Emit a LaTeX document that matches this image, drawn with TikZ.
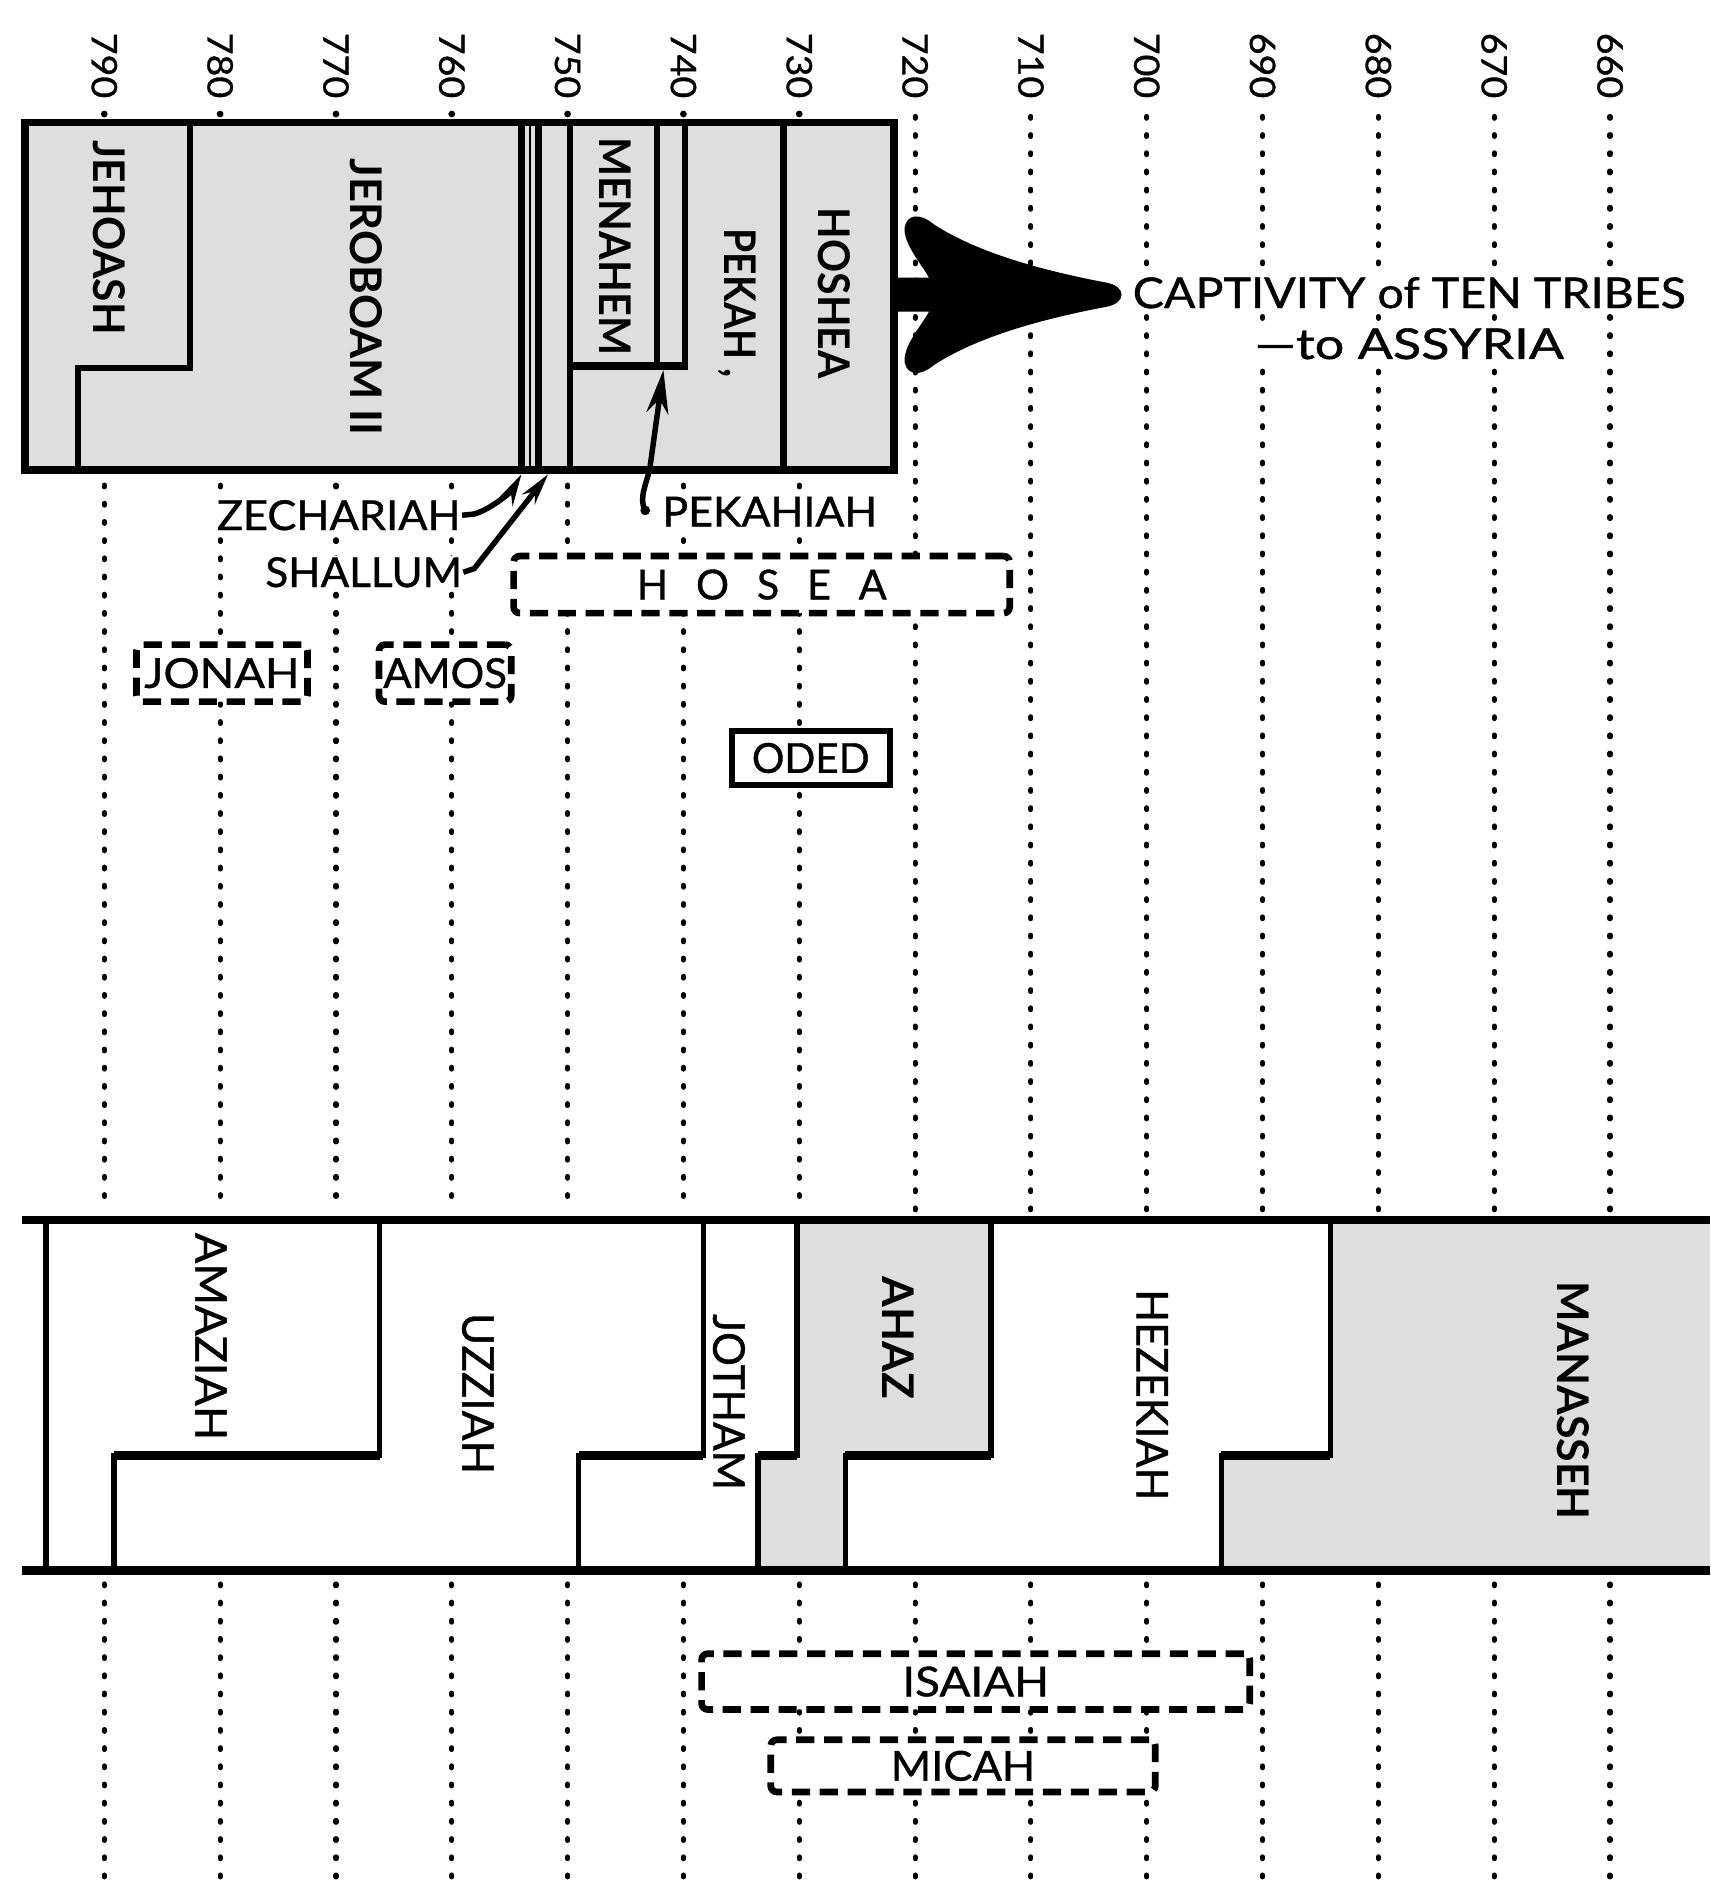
\documentclass[tikz,border=0pt]{standalone}
\usepackage{fontspec}
\setmainfont{Lato}
\newfontfamily\reg[FakeBold=0.9]{Lato}
\usepackage{graphicx}
\usetikzlibrary{arrows.meta}
\newcommand{\fw}[2]{\resizebox{#1pt}{\height}{#2}}
\newcommand{\fsz}[1]{\fontsize{#1}{#1}\selectfont}
\begin{document}
\begin{tikzpicture}[x=1pt,y=-1pt,
  dotline/.style={line width=4.2pt, dash pattern=on 1.5pt off 13.5pt, line cap=round},
  outerline/.style={line width=6.5pt},
  kingline/.style={line width=5pt},
  judahv/.style={line width=4.5pt},
  judahh/.style={line width=7pt},
  thinrule/.style={line width=1.6pt},
  gfill/.style={fill=black!13},
  vking/.style={rotate=-90, inner sep=0pt, font=\fsz{36}\bfseries},
  vjudah/.style={rotate=-90, inner sep=0pt, font=\fsz{36}\reg},
  vjudahb/.style={rotate=-90, inner sep=0pt, font=\fsz{36}\bfseries},
  ticklbl/.style={rotate=-90, inner sep=0pt, font=\fsz{29}\reg},
  lbl/.style={inner sep=1pt, fill=white, font=\fsz{34}\reg},
  dbox/.style={draw, line width=5.5pt, dash pattern=on 15pt off 8pt, rounded corners=5pt, fill=white, inner sep=0pt, font=\fsz{34}\reg},
  sbox/.style={draw, line width=5pt, fill=white, inner sep=0pt, font=\fsz{34}\reg},
  conn/.style={line width=4.5pt},
]
\fill[white] (0,0) rectangle (1410,1560);
\useasboundingbox (0,0) rectangle (1410,1560);

% year labels
\foreach \yr [count=\k from 0] in {790,780,...,660}
  \node[ticklbl] (t\yr) at ({86+95.5*\k},54) {\fw{54}{\yr}};

% dotted year lines
\foreach \k in {0,...,6} {
  \fill ({86+95.5*\k},94) circle (2.8pt);
  \draw[dotline] ({86+95.5*\k},400) -- ({86+95.5*\k},998);
}
\foreach \k in {7,...,13}
  \draw[dotline] ({86+95.5*\k},96) -- ({86+95.5*\k},998);
\foreach \k in {0,...,13}
  \draw[dotline] ({86+95.5*\k},1306) -- ({86+95.5*\k},1552);

% kings of Israel
\fill[gfill] (20.5,101) rectangle (737,387.5);
\draw[kingline] (157,101) -- (157,303.5) -- (64.5,303.5) -- (64.5,387.5);
\draw[kingline] (430,101) -- (430,387.5);
\draw[thinrule] (436.8,101) -- (436.8,387.5);
\draw[kingline] (444,101) -- (444,387.5);
\draw[kingline] (470,101) -- (470,387.5);
\draw[kingline] (541.5,101) -- (541.5,302);
\draw[kingline] (565,101) -- (565,302);
\draw[outerline] (470,302) -- (567,302);
\draw[kingline] (646,101) -- (646,387.5);
\draw[outerline] (20.5,101) rectangle (737,387.5);

\node[vking] (jehoash) at (90,196) {\fw{160}{JEHOASH}};
\node[vking] (jeroboam) at (302,245) {\fw{228}{JEROBOAM\hspace{8pt}II}};
\node[vking] (menahem) at (507,203) {\fw{180}{MENAHEM}};
\node[vking] (pekah) at (608,250) {\fw{123}{PEKAH ,}};
\node[vking] (hoshea) at (688,242) {\fw{141}{HOSHEA}};

% captivity arrow
\fill[black] (735,229) -- (766,229)
  .. controls (760,218) and (744,200) .. (746,187)
  .. controls (748,177) and (758,175) .. (770,185)
  .. controls (810,211) and (870,225) .. (912,233)
  .. controls (929,236) and (929,250) .. (912,253)
  .. controls (870,261) and (810,275) .. (770,301)
  .. controls (758,311) and (748,309) .. (746,299)
  .. controls (744,286) and (760,268) .. (766,257)
  -- (735,257) -- cycle;
\node[lbl, font=\fsz{35}\reg, anchor=base] (capt1) at (1162,254) {\fw{456}{CAPTIVITY of TEN TRIBES}};
\node[lbl, font=\fsz{35}\reg, anchor=base] (capt2) at (1162,296) {\fw{255}{—to ASSYRIA}};

% kings of Judah
\fill[white] (18,1006) rectangle (1410,1295);
\fill[gfill] (657,1006) -- (817,1006) -- (817,1200) -- (697,1200) -- (697,1295) -- (625,1295) -- (625,1200) -- (657,1200) -- cycle;
\fill[gfill] (1097,1006) -- (1410,1006) -- (1410,1295) -- (1007,1295) -- (1007,1200) -- (1097,1200) -- cycle;
\draw[judahv] (38,1006) -- (38,1295);
\draw[judahv] (313,1006) -- (313,1200) -- (94,1200) -- (94,1295);
\draw[judahv] (580,1006) -- (580,1200) -- (477,1200) -- (477,1295);
\draw[judahv] (657,1006) -- (657,1200) -- (625,1200) -- (625,1295);
\draw[judahv] (817,1006) -- (817,1200) -- (697,1200) -- (697,1295);
\draw[judahv] (1097,1006) -- (1097,1200) -- (1007,1200) -- (1007,1295);
\draw[judahh] (94,1200) -- (313,1200);
\draw[judahh] (477,1200) -- (580,1200);
\draw[judahh] (625,1200) -- (657,1200);
\draw[judahh] (697,1200) -- (817,1200);
\draw[judahh] (1007,1200) -- (1097,1200);
\draw[judahh] (18,1006) -- (1410,1006);
\draw[judahh] (18,1295) -- (1410,1295);

\node[vjudah] (amaziah) at (174,1102) {\fw{171}{AMAZIAH}};
\node[vjudah] (uzziah) at (394,1149) {\fw{133}{UZZIAH}};
\node[vjudah] (jotham) at (601,1156) {\fw{145}{JOTHAM}};
\node[vjudahb] (ahaz) at (741,1103) {\fw{101}{AHAZ}};
\node[vjudah] (hezekiah) at (950,1150) {\fw{174}{HEZEKIAH}};
\node[vjudahb] (manasseh) at (1297,1155) {\fw{196}{MANASSEH}};

% short reigns and prophets
\node[lbl, anchor=base east] (zech) at (381,437) {\fw{201}{ZECHARIAH}};
\node[lbl, anchor=base east] (shallum) at (382,484) {\fw{162}{SHALLUM}};
\node[lbl, anchor=base west] (pekahiah) at (545,434) {\fw{177}{PEKAHIAH}};

\node[dbox, minimum width=409pt, minimum height=47pt] (hosea) at (628,482) {\makebox[206pt][s]{H\hfill O\hfill S\hfill E\hfill A}};
\node[dbox, minimum width=141pt, minimum height=47pt] (jonah) at (183,555) {\fw{128}{JONAH}};
\node[dbox, minimum width=109pt, minimum height=47pt] (amos) at (367,555) {\fw{102}{AMOS}};
\node[sbox, minimum width=130pt, minimum height=45pt] (oded) at (668.5,625) {\fw{97}{ODED}};
\node[dbox, minimum width=452pt, minimum height=46pt] (isaiah) at (804.5,1386.5) {\fw{121}{ISAIAH}};
\node[dbox, minimum width=317pt, minimum height=43pt] (micah) at (794,1456) {\fw{119}{MICAH}};

% connectors
\coordinate (zechtip) at (430,391);
\coordinate (shaltip) at (452,391);
\coordinate (pktip) at (547,305);
\draw[conn, -{Stealth[length=26pt,width=13pt]}] (zech.east) -- ++(10,-1)
  .. controls +(14,-4) and +(-8,14) .. (zechtip);
\draw[conn, -{Stealth[length=26pt,width=13pt]}] (shallum.east) -- ++(9,-3)
  -- (shaltip);
\draw[conn, -{Stealth[length=36pt,width=18pt]}] (pekahiah.west) ++(-13,-1)
  coordinate (pkstart) .. controls +(-6,-10) and +(-2,12) .. ++(4,-36) -- (pktip);
\fill (pkstart) circle (4pt);
\end{tikzpicture}
\end{document}
